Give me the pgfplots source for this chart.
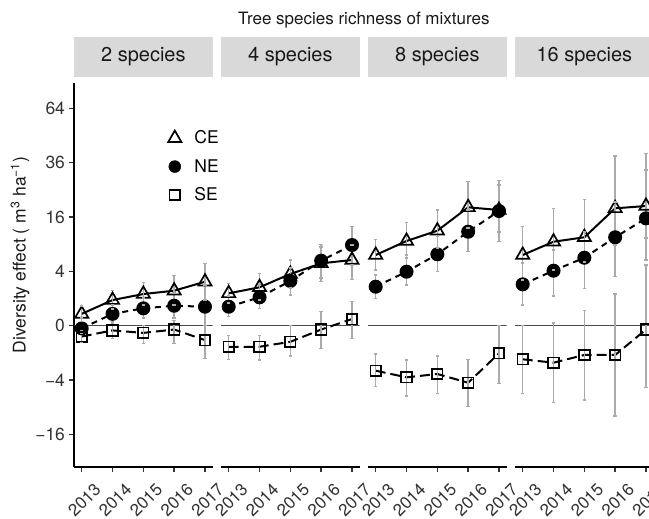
\documentclass[border=0pt]{standalone}
\usepackage{fontspec}
\setmainfont{TeX Gyre Heros}
\usepackage{pgfplots}
\pgfplotsset{compat=1.18}
\definecolor{errgray}{HTML}{ABABAB}
\definecolor{stripgray}{HTML}{D9D9D9}
\definecolor{zerogray}{HTML}{4D4D4D}
\definecolor{ticktext}{HTML}{333333}
\newcommand{\eb}[3]{\addplot[errbar] coordinates {(#1,#2) (#1,#3)};}
\pgfplotsset{
  panel/.style={
    scale only axis, width=138.7pt, height=384pt,
    xmin=2012.75, xmax=2017.25,
    ymin=-27.04, ymax=79.8,
    y coord trafo/.code={\pgfmathparse{(##1)/sqrt(abs(##1)+0.0001)}},
    y coord inv trafo/.code={\pgfmathparse{(##1)*abs(##1)}},
    axis x line*=bottom,
    xtick={2013,2014,2015,2016,2017},
    xticklabels={2013,2014,2015,2016,2017},
    tick align=outside, major tick length=5.5pt,
    tick style={line width=1.4pt, color=ticktext},
    axis line style={line width=1.6pt, black},
    xticklabel style={rotate=45, anchor=north east, font=\fontsize{17}{17}\selectfont, text=ticktext, inner sep=0pt, xshift=1.5pt, yshift=-15pt},
    yticklabel style={font=\fontsize{17.5}{17.5}\selectfont, text=ticktext},
    title style={at={(0.5,1)}, anchor=south, yshift=0pt, fill=stripgray, minimum width=138.7pt, minimum height=40pt, inner sep=0pt, font=\fontsize{20}{20}\selectfont, text=black!90},
  },
  ce/.style={black, line width=2pt, solid, mark=triangle, mark size=7.6pt, mark options={solid, line width=1.7pt}, forget plot},
  ne/.style={black, line width=2pt, dash pattern=on 6pt off 5pt, mark=*, mark size=6pt, mark options={solid}, forget plot},
  se/.style={black, line width=2pt, dash pattern=on 10pt off 5pt, mark=square, mark size=5.3pt, mark options={solid, line width=1.7pt}, forget plot},
  errbar/.style={errgray, line width=1.5pt, solid, mark=-, mark size=1.7pt, mark options={solid, line width=1.2pt}, forget plot},
  zeroline/.style={zerogray, line width=1.3pt, forget plot},
}
\begin{document}
\begin{tikzpicture}
% ---------------- 2 species
\begin{axis}[panel, at={(74pt,52pt)}, anchor=south west,
  axis y line*=left,
  ytick={-16,-4,0,4,16,36,64},
  yticklabels={−16,−4,0,4,16,36,64},
  title={2 species},
  legend style={draw=none, fill=none, at={(0.678,0.881)}, anchor=north west, inner sep=0pt,
    font=\fontsize{17.5}{17.5}\selectfont, row sep=10pt, cells={anchor=west},
    /tikz/every odd column/.append style={column sep=11pt}},
]
\addplot[zeroline] coordinates {(2012.75,0) (2017.25,0)};
\addplot[ce] coordinates {(2013,0.19) (2014,0.89) (2015,1.36) (2016,1.66) (2017,2.62)};
\addplot[ne] coordinates {(2013,-0.01) (2014,0.19) (2015,0.41) (2016,0.54) (2017,0.49)};
\addplot[se] coordinates {(2013,-0.16) (2014,-0.03) (2015,-0.07) (2016,-0.02) (2017,-0.28)};
\eb{2013}{0.02}{0.53}\eb{2014}{0.38}{1.66}\eb{2015}{0.58}{2.51}\eb{2016}{0.58}{3.39}\eb{2017}{0.89}{5.27}
\eb{2013}{-0.09}{0.08}\eb{2014}{0.01}{0.58}\eb{2015}{0.08}{1.04}\eb{2016}{0.08}{1.45}\eb{2017}{0.00}{2.24}
\eb{2013}{-0.39}{-0.03}\eb{2014}{-0.22}{0.02}\eb{2015}{-0.42}{0.00}\eb{2016}{-0.42}{0.04}\eb{2017}{-1.44}{0.00}
\addlegendimage{only marks, black, mark=triangle, mark size=7.6pt, mark options={line width=1.7pt}}
\addlegendentry{CE}
\addlegendimage{only marks, black, mark=*, mark size=6pt}
\addlegendentry{NE}
\addlegendimage{only marks, black, mark=square, mark size=5.3pt, mark options={line width=1.7pt}}
\addlegendentry{SE}
\end{axis}
% ---------------- 4 species
\begin{axis}[panel, at={(221pt,52pt)}, anchor=south west,
  axis y line=none, title={4 species}]
\addplot[zeroline] coordinates {(2012.75,0) (2017.25,0)};
\addplot[ce] coordinates {(2013,1.42) (2014,2.00) (2015,3.62) (2016,5.27) (2017,5.85)};
\addplot[ne] coordinates {(2013,0.49) (2014,1.09) (2015,2.71) (2016,5.72) (2017,8.82)};
\addplot[se] coordinates {(2013,-0.60) (2014,-0.60) (2015,-0.35) (2016,-0.02) (2017,0.06)};
\eb{2013}{0.70}{2.44}\eb{2014}{0.89}{3.72}\eb{2015}{1.93}{5.85}\eb{2016}{3.08}{8.39}\eb{2017}{2.92}{8.82}
\eb{2013}{0.11}{1.19}\eb{2014}{0.41}{2.24}\eb{2015}{1.28}{4.51}\eb{2016}{2.62}{8.98}\eb{2017}{4.99}{13.28}
\eb{2013}{-1.53}{-0.12}\eb{2014}{-1.59}{-0.12}\eb{2015}{-1.24}{0.00}\eb{2016}{-0.69}{0.27}\eb{2017}{-0.22}{0.78}
\end{axis}
% ---------------- 8 species
\begin{axis}[panel, at={(368pt,52pt)}, anchor=south west,
  axis y line=none, title={8 species}]
\addplot[zeroline] coordinates {(2012.75,0) (2017.25,0)};
\addplot[ce] coordinates {(2013,6.77) (2014,9.72) (2015,12.23) (2016,18.99) (2017,18.13)};
\addplot[ne] coordinates {(2013,2.06) (2014,3.95) (2015,6.91) (2016,11.97) (2017,17.82)};
\addplot[se] coordinates {(2013,-2.74) (2014,-3.61) (2015,-3.16) (2016,-4.40) (2017,-1.03)};
\eb{2013}{4.20}{10.11}\eb{2014}{6.21}{14.37}\eb{2015}{8.18}{18.13}\eb{2016}{12.93}{28.09}\eb{2017}{11.89}{26.82}
\eb{2013}{1.02}{3.48}\eb{2014}{2.24}{6.77}\eb{2015}{3.95}{10.90}\eb{2016}{7.42}{18.13}\eb{2017}{9.56}{28.48}
\eb{2013}{-5.04}{-1.08}\eb{2014}{-6.69}{-1.59}\eb{2015}{-6.19}{-1.24}\eb{2016}{-8.89}{-1.53}\eb{2017}{-4.49}{0.00}
\end{axis}
% ---------------- 16 species
\begin{axis}[panel, at={(515pt,52pt)}, anchor=south west,
  axis y line=none, title={16 species}]
\addplot[zeroline] coordinates {(2012.75,0) (2017.25,0)};
\addplot[ce] coordinates {(2013,6.77) (2014,9.56) (2015,10.59) (2016,18.67) (2017,19.41)};
\addplot[ne] coordinates {(2013,2.32) (2014,4.10) (2015,6.26) (2016,10.59) (2017,15.63)};
\addplot[se] coordinates {(2013,-1.53) (2014,-1.85) (2015,-1.16) (2016,-1.16) (2017,-0.02)};
\eb{2013}{2.83}{13.28}\eb{2014}{4.20}{18.67}\eb{2015}{5.50}{21.64}\eb{2016}{8.82}{39.01}\eb{2017}{10.42}{40.26}
\eb{2013}{0.58}{5.33}\eb{2014}{1.19}{7.76}\eb{2015}{1.89}{11.89}\eb{2016}{3.25}{20.73}\eb{2017}{5.85}{32.84}
\eb{2013}{-6.19}{0.00}\eb{2014}{-8.03}{0.01}\eb{2015}{-7.48}{0.30}\eb{2016}{-11.05}{1.36}\eb{2017}{-5.21}{4.99}
\end{axis}
\node[font=\fontsize{17}{17}\selectfont, text=black!90] at (363.9pt,499pt) {Tree species richness of mixtures};
\node[rotate=90, font=\fontsize{17.5}{17.5}\selectfont, text=black!90] at (20pt,264pt) {Diversity effect ( m\textsuperscript{3} ha\textsuperscript{−1})};
\pgfresetboundingbox
\path[use as bounding box] (0pt,0pt) rectangle (649pt,519pt);
\end{tikzpicture}
\end{document}
